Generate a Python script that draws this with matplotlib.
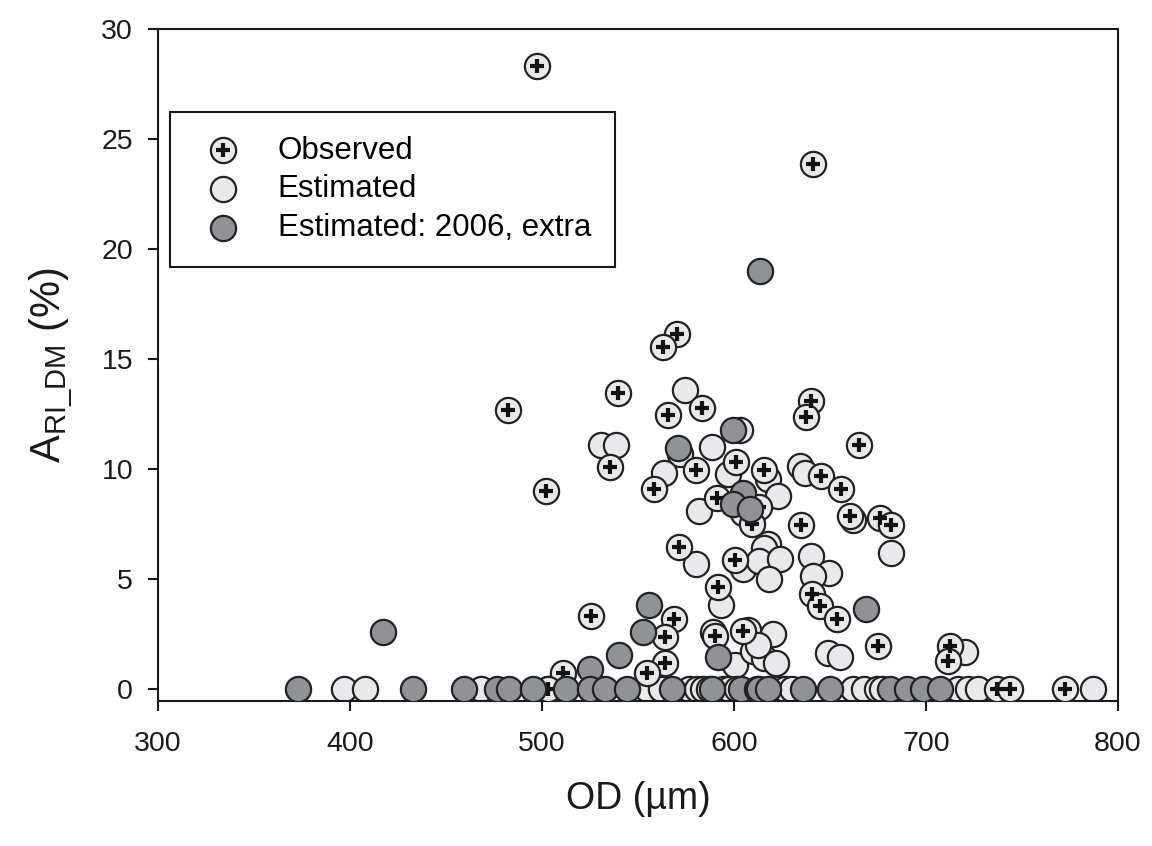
import matplotlib
matplotlib.use("Agg")
import matplotlib.pyplot as plt
from matplotlib.legend_handler import HandlerTuple

plt.rcParams['font.family'] = ['Liberation Sans', 'DejaVu Sans']
plt.rcParams['mathtext.fontset'] = 'custom'
plt.rcParams['mathtext.rm'] = 'Liberation Sans'
plt.rcParams['mathtext.it'] = 'Liberation Sans'

# ---------------- data ----------------
obs_x = [497.4, 641.0, 570.2, 563.2, 539.8, 482.1, 583.5, 565.4, 640.0, 637.5,
         665.3, 535.4, 502.1, 580.2, 558.3, 601.0, 591.0, 615.8, 645.1, 655.6,
         613.2, 609.2, 634.7, 660.4, 676.0, 682.0, 571.5, 600.5, 591.5, 640.4,
         644.8, 653.8, 675.2, 568.8, 564.0, 525.3, 564.0, 554.5, 511.1, 590.1,
         604.9, 712.5, 711.6, 503.3, 736.8, 743.8, 772.6]
obs_y = [28.3, 23.86, 16.15, 15.56, 13.44, 12.68, 12.78, 12.45, 13.09, 12.38,
         11.08, 10.09, 9.0, 9.95, 9.11, 10.33, 8.7, 9.96, 9.68, 9.11,
         8.3, 7.49, 7.45, 7.87, 7.79, 7.45, 6.48, 5.87, 4.66, 4.31,
         3.78, 3.18, 1.97, 3.18, 2.35, 3.33, 1.21, 0.72, 0.72, 2.42,
         2.65, 1.97, 1.29, 0.0, 0.0, 0.0, 0.0]

est_x = [574.5, 530.6, 538.5, 572.0, 588.7, 563.7, 603.1, 596.7, 581.8, 580.0,
         604.7, 617.9, 634.4, 637.0, 662.0, 682.0, 623.1, 604.7, 617.9, 615.5,
         613.2, 624.0, 618.4, 640.1, 649.6, 641.3, 649.1, 655.2, 593.0, 589.0,
         607.5, 620.1, 600.5, 610.0, 615.6, 621.9, 720.3, 612.5,
         397.0, 407.8, 468.0, 503.0, 526.0, 554.5, 562.0, 576.5, 580.5, 584.0,
         587.0, 594.4, 597.5, 601.4, 618.8, 622.2, 626.6, 630.0, 662.0, 667.8,
         674.5, 677.0, 716.8, 722.0, 727.0, 787.1]
est_y = [13.59, 11.09, 11.09, 10.7, 11.0, 9.83, 11.8, 9.76, 8.1, 5.67,
         5.45, 9.56, 10.14, 9.83, 7.68, 6.17, 8.78, 8.0, 6.58, 6.4,
         5.82, 5.9, 4.99, 6.05, 5.3, 5.14, 1.63, 1.48, 3.81, 2.6,
         2.7, 2.5, 1.09, 1.74, 1.44, 1.21, 1.69, 2.0,
         0.0, 0.0, 0.0, 0.0, 0.0, 0.0, 0.0, 0.0, 0.0, 0.0,
         0.0, 0.0, 0.0, 0.0, 0.0, 0.0, 0.0, 0.0, 0.0, 0.0,
         0.0, 0.0, 0.0, 0.0, 0.0, 0.0]

ext_x = [613.5, 599.7, 571.0, 604.9, 599.7, 608.3, 668.5, 555.9, 552.8, 540.1,
         525.0, 591.8, 417.4,
         373.0, 433.0, 459.4, 476.5, 482.7, 495.2, 512.3, 525.0, 532.8, 544.0,
         567.5, 588.4, 603.5, 612.0, 613.2, 617.9, 636.0, 650.0, 681.3, 689.9,
         698.6, 707.3]
ext_y = [18.99, 11.77, 10.94, 8.93, 8.4, 8.2, 3.66, 3.81, 2.6, 1.54,
         0.91, 1.48, 2.62,
         0.0, 0.0, 0.0, 0.0, 0.0, 0.0, 0.0, 0.0, 0.0, 0.0,
         0.0, 0.0, 0.0, 0.0, 0.0, 0.0, 0.0, 0.0, 0.0, 0.0,
         0.0, 0.0]

labels = ["Observed", "Estimated", "Estimated: 2006, extra"]
x_ticks = [300, 400, 500, 600, 700, 800]
y_ticks = [0, 5, 10, 15, 20, 25, 30]

# ---------------- style ----------------
light = "#E9E9EB"
dark = "#909295"
edge = "#222222"
S = 330
LW = 1.6

fig = plt.figure(figsize=(11.52, 8.46), dpi=100)
ax = fig.add_axes([0.1372, 0.1718, 0.8333, 0.794])

h_est = ax.scatter(est_x, est_y, s=S, c=light, edgecolors=edge, linewidths=LW, zorder=2)
h_obs_c = ax.scatter(obs_x, obs_y, s=S, c=light, edgecolors=edge, linewidths=LW, zorder=3)
h_obs_p = ax.scatter(obs_x, obs_y, s=100, marker='+', c='#111111', linewidths=3.0, zorder=3.1)
h_ext = ax.scatter(ext_x, ext_y, s=S, c=dark, edgecolors=edge, linewidths=LW, zorder=4)

ax.set_xlim(300, 800)
ax.set_ylim(-0.52, 30)
ax.set_xticks(x_ticks)
ax.set_yticks(y_ticks)
ax.tick_params(axis='both', direction='out', length=7, width=1.5, labelsize=20.5,
               top=False, right=False, colors='#1a1a1a')
ax.tick_params(axis='x', pad=15)
ax.tick_params(axis='y', pad=11)
for sp in ax.spines.values():
    sp.set_linewidth(1.5)
    sp.set_color('#1a1a1a')

ax.set_xlabel("OD (µm)", fontsize=27, labelpad=17, color='#1a1a1a')
ax.set_ylabel(r"A$_{\mathrm{RI\_DM}}$ (%)", fontsize=30, labelpad=18, color='#1a1a1a')

leg = ax.legend([(h_obs_c, h_obs_p), h_est, h_ext], labels,
                handler_map={tuple: HandlerTuple(ndivide=1, pad=0)},
                loc='upper left', bbox_to_anchor=(0.0125, 0.876), borderaxespad=0,
                fontsize=22.5, frameon=True, fancybox=False, edgecolor='#1a1a1a',
                framealpha=1, borderpad=0.75, handlelength=1.9, handletextpad=0.8,
                labelspacing=0.28, scatterpoints=1)
leg.get_frame().set_linewidth(1.5)

fig.savefig("out.png", dpi=100)
